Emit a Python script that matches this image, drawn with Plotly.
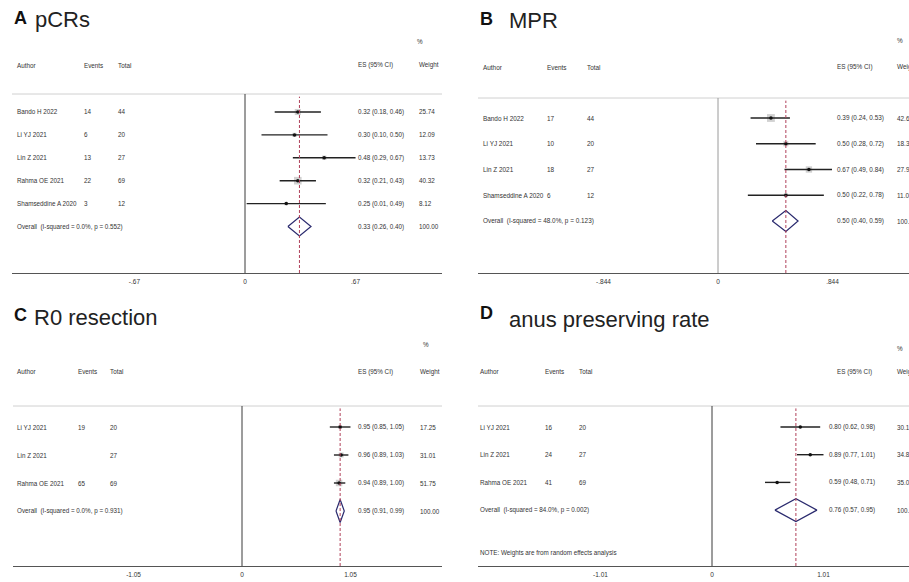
import plotly.graph_objects as go

W, H = 909, 582

# ---------------- DATA ----------------
A_authors = ["Bando H 2022", "Li YJ 2021", "Lin Z 2021", "Rahma OE 2021", "Shamseddine A 2020"]
A_events = [14, 6, 13, 22, 3]
A_total = [44, 20, 27, 69, 12]
A_es = [0.32, 0.30, 0.48, 0.32, 0.25]
A_lo = [0.18, 0.10, 0.29, 0.21, 0.01]
A_hi = [0.46, 0.50, 0.67, 0.43, 0.49]
A_weight = [25.74, 12.09, 13.73, 40.32, 8.12]
A_overall = [0.33, 0.26, 0.40]
A_het = "Overall  (I-squared = 0.0%, p = 0.552)"
A_ticks = [-0.67, 0, 0.67]
A_ticklabels = ["-.67", "0", ".67"]

B_authors = ["Bando H 2022", "Li YJ 2021", "Lin Z 2021", "Shamseddine A 2020"]
B_events = [17, 10, 18, 6]
B_total = [44, 20, 27, 12]
B_es = [0.39, 0.50, 0.67, 0.50]
B_lo = [0.24, 0.28, 0.49, 0.22]
B_hi = [0.53, 0.72, 0.84, 0.78]
B_weight = [42.66, 18.39, 27.93, 11.03]
B_overall = [0.50, 0.40, 0.59]
B_het = "Overall  (I-squared = 48.0%, p = 0.123)"
B_ticks = [-0.844, 0, 0.844]
B_ticklabels = ["-.844", "0", ".844"]

C_authors = ["Li YJ 2021", "Lin Z 2021", "Rahma OE 2021"]
C_events = [19, None, 65]
C_total = [20, 27, 69]
C_es = [0.95, 0.96, 0.94]
C_lo = [0.85, 0.89, 0.89]
C_hi = [1.05, 1.03, 1.00]
C_weight = [17.25, 31.01, 51.75]
C_overall = [0.95, 0.91, 0.99]
C_het = "Overall  (I-squared = 0.0%, p = 0.931)"
C_ticks = [-1.05, 0, 1.05]
C_ticklabels = ["-1.05", "0", "1.05"]

D_authors = ["Li YJ 2021", "Lin Z 2021", "Rahma OE 2021"]
D_events = [16, 24, 41]
D_total = [20, 27, 69]
D_es = [0.80, 0.89, 0.59]
D_lo = [0.62, 0.77, 0.48]
D_hi = [0.98, 1.01, 0.71]
D_weight = [30.15, 34.82, 35.03]
D_overall = [0.76, 0.57, 0.95]
D_het = "Overall  (I-squared = 84.0%, p = 0.002)"
D_ticks = [-1.01, 0, 1.01]
D_ticklabels = ["-1.01", "0", "1.01"]
D_note = "NOTE: Weights are from random effects analysis"

titles = [("A", "pCRs"), ("B", "MPR"), ("C", "R0 resection"), ("D", "anus preserving rate")]

data_sets = [
    dict(authors=A_authors, events=A_events, total=A_total, es=A_es, lo=A_lo, hi=A_hi,
         weight=A_weight, overall=A_overall, het=A_het, ticks=A_ticks, ticklabels=A_ticklabels, note=None),
    dict(authors=B_authors, events=B_events, total=B_total, es=B_es, lo=B_lo, hi=B_hi,
         weight=B_weight, overall=B_overall, het=B_het, ticks=B_ticks, ticklabels=B_ticklabels, note=None),
    dict(authors=C_authors, events=C_events, total=C_total, es=C_es, lo=C_lo, hi=C_hi,
         weight=C_weight, overall=C_overall, het=C_het, ticks=C_ticks, ticklabels=C_ticklabels, note=None),
    dict(authors=D_authors, events=D_events, total=D_total, es=D_es, lo=D_lo, hi=D_hi,
         weight=D_weight, overall=D_overall, het=D_het, ticks=D_ticks, ticklabels=D_ticklabels, note=D_note),
]

# ---------------- LAYOUT GEOMETRY (pixels) ----------------
geom = [
    dict(xl=12, xr=442, zero=245, scale=165.0, top=94, axis=273, row0=112, step=22.9,
         c_author=15, c_events=82, c_total=116, c_es=356, c_es_hdr=356, c_w=417,
         pct=(415, 42), hdr=65, t_letter=(12, 18), t_text=(33, 20), box_k=1.2, fs=6.3,
         zcol="#3a3a3a", note_y=None),
    dict(xl=478, xr=909, zero=718, scale=135.7, top=98, axis=273, row0=118, step=25.75,
         c_author=481, c_events=545, c_total=585, c_es=835, c_es_hdr=835, c_w=895,
         pct=(895, 41), hdr=67, t_letter=(478, 19), t_text=(507, 21), box_k=1.2, fs=6.4,
         zcol="#9a9a9a", note_y=None),
    dict(xl=13, xr=442, zero=242, scale=103.3, top=406, axis=566, row0=427, step=28.0,
         c_author=15, c_events=76, c_total=108, c_es=356, c_es_hdr=356, c_w=418,
         pct=(421, 344), hdr=372, t_letter=(12, 315), t_text=(32, 318), box_k=0.9, fs=6.3,
         zcol="#3a3a3a", note_y=None),
    dict(xl=478, xr=909, zero=712, scale=110.4, top=406, axis=566, row0=427, step=27.7,
         c_author=478, c_events=543, c_total=577, c_es=827, c_es_hdr=835, c_w=895,
         pct=(895, 348), hdr=372, t_letter=(478, 313), t_text=(507, 319), box_k=0.45, fs=6.3,
         zcol="#3a3a3a", note_y=553),
]

FONT = "Liberation Sans, Arial, sans-serif"
TXT = "#333333"

fig = go.Figure()
annotations = []
shapes = []
layout_axes = {}


def xp(x):
    return x / W


def yp(y):
    return 1 - y / H


for k, (d, g, (letter, ttl)) in enumerate(zip(data_sets, geom, titles)):
    n = k + 1
    xa = "x" if n == 1 else f"x{n}"
    ya = "y" if n == 1 else f"y{n}"
    xkey = "xaxis" if n == 1 else f"xaxis{n}"
    ykey = "yaxis" if n == 1 else f"yaxis{n}"

    xr0 = (g["xl"] - g["zero"]) / g["scale"]
    xr1 = (g["xr"] - g["zero"]) / g["scale"]
    yr_bottom = (g["axis"] - g["row0"]) / g["step"]
    yr_top = (g["top"] - g["row0"]) / g["step"]

    layout_axes[xkey] = dict(
        domain=[xp(g["xl"]), xp(g["xr"])], range=[xr0, xr1], anchor=ya,
        showgrid=False, zeroline=False, showline=True, linecolor="#555555", linewidth=1,
        tickmode="array", tickvals=d["ticks"], ticktext=d["ticklabels"],
        ticks="outside", ticklen=2, tickcolor="rgba(0,0,0,0)",
        tickfont=dict(family=FONT, size=6.5, color=TXT), fixedrange=True,
    )
    layout_axes[ykey] = dict(
        domain=[yp(g["axis"]), yp(g["top"])], range=[yr_bottom, yr_top], anchor=xa,
        visible=False, showgrid=False, zeroline=False, fixedrange=True,
    )

    nstudy = len(d["authors"])
    rows = list(range(nstudy))
    orow = nstudy

    # weight boxes
    fig.add_trace(go.Scatter(
        x=d["es"], y=rows, xaxis=xa, yaxis=ya, mode="markers", hoverinfo="skip",
        marker=dict(symbol="square", size=[g["box_k"] * w ** 0.5 for w in d["weight"]],
                    color="#bdbdbd", line=dict(width=0)),
        showlegend=False,
    ))
    # CI lines + point estimates
    fig.add_trace(go.Scatter(
        x=d["es"], y=rows, xaxis=xa, yaxis=ya, mode="markers", hoverinfo="skip",
        marker=dict(symbol="circle", size=3.5, color="#111111"),
        error_x=dict(type="data", symmetric=False,
                     array=[h - e for h, e in zip(d["hi"], d["es"])],
                     arrayminus=[e - l for e, l in zip(d["es"], d["lo"])],
                     width=0, thickness=1.4, color="#222222"),
        showlegend=False,
    ))
    # overall diamond
    est, olo, ohi = d["overall"]
    hh = 0.41
    fig.add_trace(go.Scatter(
        x=[olo, est, ohi, est, olo], y=[orow, orow - hh, orow, orow + hh, orow],
        xaxis=xa, yaxis=ya, mode="lines", fill="toself", fillcolor="white",
        line=dict(color="#2a2a6e", width=1.2), hoverinfo="skip", showlegend=False,
    ))

    # reference lines
    shapes.append(dict(type="line", xref=f"{xa} domain", yref=f"{ya} domain",
                       x0=0, x1=1, y0=1, y1=1, line=dict(color="#d0d0d0", width=1)))
    shapes.append(dict(type="line", xref=xa, yref=f"{ya} domain",
                       x0=0, x1=0, y0=0, y1=1, line=dict(color=g["zcol"], width=1)))
    shapes.append(dict(type="line", xref=xa, yref=f"{ya} domain",
                       x0=est, x1=est, y0=0, y1=0.985,
                       line=dict(color="#b0405a", width=1, dash="3px,2px")))

    fs = g["fs"]

    def add_text(text, x, y, yref="paper", size=fs, color=TXT, bold=False):
        annotations.append(dict(
            text=f"<b>{text}</b>" if bold else text, x=xp(x), y=(yp(y) if yref == "paper" else y),
            xref="paper", yref=yref, xanchor="left", yanchor="middle", showarrow=False,
            font=dict(family=FONT, size=size, color=color),
        ))

    # titles
    add_text(letter, g["t_letter"][0], g["t_letter"][1], size=18, color="#111111", bold=True)
    add_text(ttl, g["t_text"][0], g["t_text"][1], size=22, color="#222222")

    # headers
    add_text("%", g["pct"][0], g["pct"][1])
    add_text("Author", g["c_author"], g["hdr"])
    add_text("Events", g["c_events"], g["hdr"])
    add_text("Total", g["c_total"], g["hdr"])
    add_text("ES (95% CI)", g["c_es_hdr"], g["hdr"])
    add_text("Weight", g["c_w"], g["hdr"])

    # study rows
    for i in rows:
        add_text(d["authors"][i], g["c_author"], i, yref=ya)
        ev = d["events"][i]
        if ev is not None:
            add_text(str(ev), g["c_events"], i, yref=ya)
        add_text(str(d["total"][i]), g["c_total"], i, yref=ya)
        add_text(f"{d['es'][i]:.2f} ({d['lo'][i]:.2f}, {d['hi'][i]:.2f})", g["c_es"], i, yref=ya)
        add_text(f"{d['weight'][i]:.2f}", g["c_w"], i, yref=ya)

    # overall row
    add_text(d["het"], g["c_author"], orow, yref=ya)
    add_text(f"{est:.2f} ({olo:.2f}, {ohi:.2f})", g["c_es"], orow, yref=ya)
    add_text("100.00", g["c_w"], orow, yref=ya)

    if d["note"] and g["note_y"]:
        add_text(d["note"], g["c_author"], g["note_y"])

fig.update_layout(
    width=W, height=H, autosize=False,
    margin=dict(l=0, r=0, t=0, b=0),
    paper_bgcolor="white", plot_bgcolor="white",
    showlegend=False, annotations=annotations, shapes=shapes,
    **layout_axes,
)

fig.write_html("out.html", config={"displayModeBar": False},
               post_script="document.body.style.margin='0';document.body.style.overflow='hidden';")
